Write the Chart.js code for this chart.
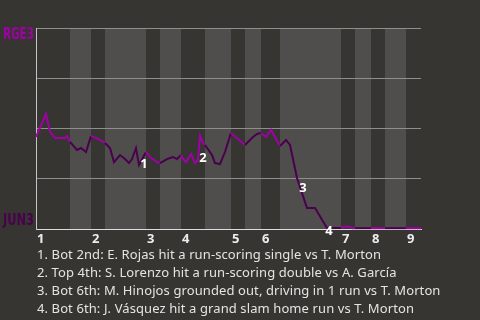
<!DOCTYPE html>
<html>
<head>
<meta charset="utf-8">
<script src="https://cdn.jsdelivr.net/npm/chart.js@4/dist/chart.umd.min.js"></script>
<style>
  html, body { margin: 0; padding: 0; background: #363531; }
  #wrap { position: relative; width: 480px; height: 320px; overflow: hidden; }
  #notes { position: absolute; left: 37px; top: 245px; color: #e4e4e2; font: 13px "Noto Sans", sans-serif; line-height: 18px; letter-spacing: 0.1px; white-space: nowrap; }
</style>
</head>
<body>
<div id="wrap">
  <canvas id="wpChart" width="480" height="320"></canvas>
  <div id="notes"></div>
</div>
<script>
// teams: away on top of the chart, home at the bottom
const awayTeam = 'RGE3';
const homeTeam = 'JUN3';
const awayColor = '#a000a6';
const homeColor = '#4a004f';

// game axis runs 0..gameEnd, each half inning starts at one of these values
const gameEnd = 385;
const halfStarts = [0, 34, 55, 69, 110, 124, 145, 169, 195, 209, 225, 244, 305, 319, 335, 349, 370];
const inningLabels = ['1', '2', '3', '4', '5', '6', '7', '8', '9'];

// away team win probability (%) after each play
const playX = [0, 10, 14, 19, 29, 31, 34, 41, 45, 50, 55, 62, 69, 74, 78, 84, 89, 93, 96, 100, 103,
  110, 114, 121, 124, 131, 134, 137, 141, 145, 147, 150, 155, 159, 162, 164, 167, 169, 176, 179,
  184, 189, 195, 209, 217, 221, 225, 230, 235, 244, 250, 254, 261, 271, 279, 291, 305, 307, 314,
  316, 319, 335, 349, 370, 385];
const winPct = [45.8, 57.2, 48.3, 45.3, 45.3, 46.3, 43.3, 39.3, 40.3, 38.3, 46.3, 44.8, 42.8, 40.3,
  33.3, 36.8, 34.8, 32.8, 34.8, 40.3, 31.8, 38.3, 35.8, 33.3, 32.8, 34.8, 35.3, 35.8, 34.8, 36.8,
  34.8, 33.3, 37.3, 32.8, 34.3, 46.3, 42.8, 41.8, 36.8, 32.8, 32.3, 38.3, 47.8, 41.8, 45.8, 47.3,
  47.8, 45.8, 49.3, 41.3, 44.3, 41.8, 25.4, 10.4, 10.4, 0.5, 0.5, 1.1, 1.1, 0.4, 0.4, 0.4, 0.4,
  0.4, 0.4];

// key events, numbered markers on the line
const eventX = [108, 167, 267, 293];
const eventY = [32.3, 35.3, 20.4, -1.2];
const eventNotes = [
  '1. Bot 2nd: E. Rojas hit a run-scoring single vs T. Morton',
  '2. Top 4th: S. Lorenzo hit a run-scoring double vs A. García',
  '3. Bot 6th: M. Hinojos grounded out, driving in 1 run vs T. Morton',
  '4. Bot 6th: J. Vásquez hit a grand slam home run vs T. Morton'
];

function halfIndex(v) {
  let k = 0;
  halfStarts.forEach((s, i) => { if (v >= s) k = i; });
  return k;
}

const gameBands = {
  id: 'gameBands',
  beforeDraw(chart) {
    const { ctx, chartArea: a, scales: { x } } = chart;
    ctx.save();
    ctx.fillStyle = '#363531';
    ctx.fillRect(0, 0, chart.width, chart.height);
    ctx.fillStyle = '#4f4e4c';
    halfStarts.forEach((s, i) => {
      if (i % 2 === 0) return; // bottom halves are shaded
      const end = i + 1 < halfStarts.length ? halfStarts[i + 1] : gameEnd;
      const x0 = x.getPixelForValue(s);
      const x1 = x.getPixelForValue(end);
      ctx.fillRect(x0, a.top, x1 - x0, a.bottom - a.top);
    });
    ctx.restore();
  },
  afterDraw(chart) {
    const { ctx, chartArea: a, scales: { x, y } } = chart;
    ctx.save();
    // team names, kept inside the left margin
    ctx.font = 'bold 15px "DejaVu Sans Condensed", "DejaVu Sans", sans-serif';
    ctx.textAlign = 'left';
    ctx.textBaseline = 'middle';
    ctx.fillStyle = awayColor;
    ctx.fillText(awayTeam, 3, a.top + 7, a.left - 5);
    ctx.fillStyle = homeColor;
    ctx.fillText(homeTeam, 3, a.bottom - 8, a.left - 5);
    // innings
    ctx.font = 'bold 13px "Noto Sans", sans-serif';
    ctx.fillStyle = '#ececec';
    inningLabels.forEach((lab, i) => {
      ctx.fillText(lab, x.getPixelForValue(halfStarts[i * 2]) + 1, a.bottom + 10);
    });
    // event markers
    ctx.textAlign = 'center';
    ctx.fillStyle = '#ffffff';
    eventX.forEach((ex, i) => {
      ctx.fillText(String(i + 1), x.getPixelForValue(ex), y.getPixelForValue(eventY[i]));
    });
    ctx.restore();
  }
};

document.getElementById('notes').innerHTML = eventNotes.map(t => '<div>' + t + '</div>').join('');

new Chart(document.getElementById('wpChart').getContext('2d'), {
  type: 'line',
  data: {
    datasets: [{
      data: playX.map((px, i) => ({ x: px, y: winPct[i] })),
      borderWidth: 2,
      pointRadius: 0,
      tension: 0,
      fill: false,
      clip: false,
      borderColor: awayColor,
      segment: {
        borderColor: c => halfIndex((c.p0.parsed.x + c.p1.parsed.x) / 2) % 2 === 0 ? awayColor : homeColor
      }
    }]
  },
  options: {
    responsive: false,
    animation: false,
    devicePixelRatio: 1,
    layout: { padding: { left: 36, top: 28, right: 59, bottom: 91 } },
    plugins: { legend: { display: false }, tooltip: { enabled: false } },
    scales: {
      x: {
        type: 'linear',
        min: 0,
        max: gameEnd,
        ticks: { display: false },
        grid: { display: false, drawTicks: false },
        border: { color: '#dcdcdc', width: 1 }
      },
      y: {
        min: 0,
        max: 100,
        ticks: { display: false, stepSize: 25 },
        grid: { color: '#8e8e8c', drawTicks: false },
        border: { color: '#c4c4c4', width: 1 }
      }
    }
  },
  plugins: [gameBands]
});
</script>
</body>
</html>
